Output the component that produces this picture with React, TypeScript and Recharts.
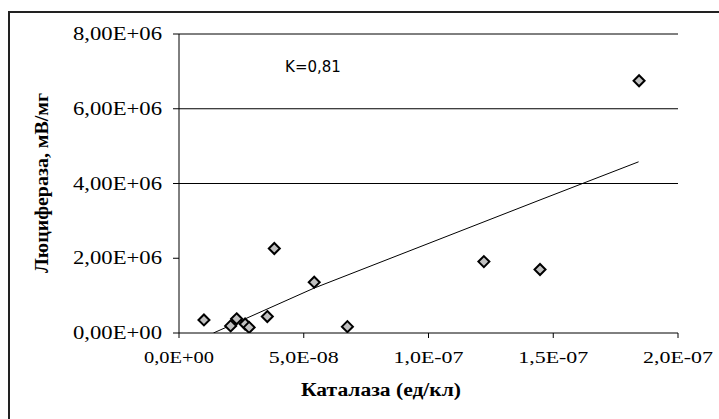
import {
  ScatterChart,
  Scatter,
  XAxis,
  YAxis,
  ReferenceLine,
  Customized,
} from "recharts";

// catalase (units/cell) vs luciferase (mV/mg)
const catalase = [
  1.0e-8, 2.07e-8, 2.31e-8, 2.65e-8, 2.81e-8, 3.54e-8, 3.82e-8, 5.42e-8, 6.75e-8,
  1.222e-7, 1.447e-7, 1.844e-7,
];
const luciferase = [
  0.35e6, 0.19e6, 0.38e6, 0.24e6, 0.15e6, 0.44e6, 2.26e6, 1.36e6, 0.17e6,
  1.91e6, 1.7e6, 6.75e6,
];

// trend line as drawn
const trendX = [1.38e-8, 5.41e-8, 1.447e-7, 1.842e-7];
const trendY = [0, 1.2e6, 3.56e6, 4.58e6];

const xTicks = [0, 5e-8, 1e-7, 1.5e-7, 2e-7];
const xTickLabels = ["0,0E+00", "5,0E-08", "1,0E-07", "1,5E-07", "2,0E-07"];
const yTicks = [0, 2e6, 4e6, 6e6, 8e6];
const yTickLabels = ["0,00E+00", "2,00E+06", "4,00E+06", "6,00E+06", "8,00E+06"];
const gridValues = [4e6, 6e6, 8e6];

const points = catalase.map((x, i) => ({ x, y: luciferase[i] }));
const trend = trendX.map((x, i) => ({ x, y: trendY[i] }));

const SERIF = "'Liberation Serif', 'Times New Roman', serif";

function Diamond(props: any) {
  const { cx, cy } = props;
  if (cx == null || cy == null) return <g />;
  const r = 5.5;
  return (
    <path
      d={`M${cx},${cy - r} L${cx + r},${cy} L${cx},${cy + r} L${cx - r},${cy} Z`}
      fill="#c0c0c0"
      stroke="#000"
      strokeWidth={2}
    />
  );
}

function XTick(props: any) {
  const { x, y, index } = props;
  return (
    <text
      x={x}
      y={y + 23}
      textAnchor="middle"
      fontFamily={SERIF}
      fontSize={17}
      fill="#000"
      textLength={70}
      lengthAdjust="spacingAndGlyphs"
    >
      {xTickLabels[index]}
    </text>
  );
}

function YTick(props: any) {
  const { x, y, index } = props;
  return (
    <text
      x={x}
      y={y + 6}
      textAnchor="end"
      fontFamily={SERIF}
      fontSize={18}
      fill="#000"
      textLength={89}
      lengthAdjust="spacingAndGlyphs"
    >
      {yTickLabels[index]}
    </text>
  );
}

function Titles() {
  return (
    <g>
      <text
        x={381}
        y={396}
        textAnchor="middle"
        fontFamily={SERIF}
        fontWeight="bold"
        fontSize={18}
        fill="#000"
        textLength={160}
        lengthAdjust="spacingAndGlyphs"
      >
        Каталаза (ед/кл)
      </text>
      <text
        x={48}
        y={183}
        transform="rotate(-90, 48, 183)"
        textAnchor="middle"
        fontFamily={SERIF}
        fontWeight="bold"
        fontSize={18}
        fill="#000"
        textLength={180}
        lengthAdjust="spacingAndGlyphs"
      >
        Люцифераза, мВ/мг
      </text>
      <text
        x={313}
        y={72}
        textAnchor="middle"
        fontFamily="'DejaVu Sans', sans-serif"
        fontSize={15}
        fill="#000"
      >
        K=0,81
      </text>
    </g>
  );
}

export default function App() {
  return (
    <div style={{ position: "relative", width: 719, height: 419, overflow: "hidden", background: "#fff" }}>
      <style>{`body{margin:0;overflow:hidden;}`}</style>
      <div
        style={{
          position: "absolute",
          left: 8,
          top: 11,
          width: 800,
          height: 500,
          border: "2px solid #222",
        }}
      />
      <div style={{ position: "absolute", left: 0, top: 0 }}>
        <ScatterChart
          width={719}
          height={419}
          margin={{ top: 34, right: 41, bottom: 0, left: 0 }}
        >
          <XAxis
            type="number"
            dataKey="x"
            domain={[0, 2e-7]}
            ticks={xTicks}
            interval={0}
            height={86}
            tickSize={5}
            tickMargin={2}
            stroke="#000"
            tick={<XTick />}
            allowDataOverflow
          />
          <YAxis
            type="number"
            dataKey="y"
            domain={[0, 8e6]}
            ticks={yTicks}
            interval={0}
            width={179}
            tickSize={6}
            tickMargin={11}
            stroke="#000"
            tick={<YTick />}
            allowDataOverflow
          />
          {gridValues.map((v) => (
            <ReferenceLine key={v} y={v} stroke="#000" strokeWidth={1} />
          ))}
          <Scatter
            data={trend}
            line={{ stroke: "#000", strokeWidth: 1 }}
            shape={() => <g />}
            isAnimationActive={false}
          />
          <Scatter data={points} shape={<Diamond />} isAnimationActive={false} />
          <Customized component={<Titles />} />
        </ScatterChart>
      </div>
    </div>
  );
}
